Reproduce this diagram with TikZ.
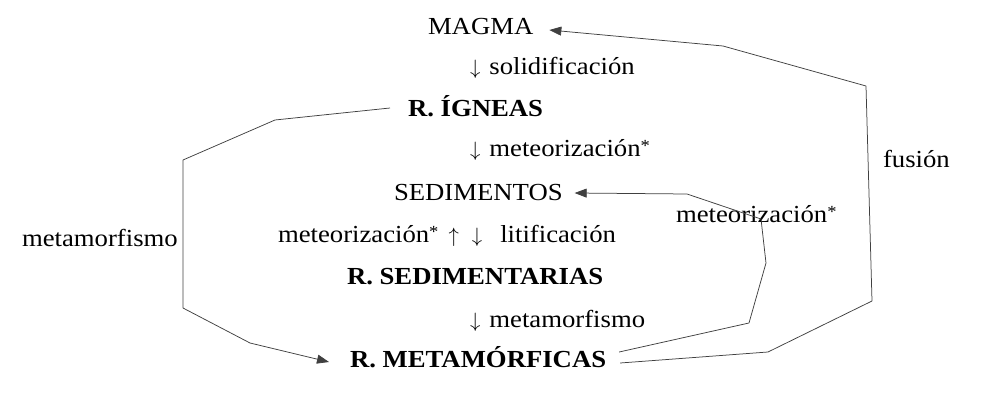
\documentclass[tikz,border=0pt]{standalone}
\usepackage{fontspec}
\setmainfont{Liberation Serif}[FakeStretch=1.09]
\usetikzlibrary{arrows.meta,calc}
\newcommand{\myast}{\raisebox{5pt}{\fontsize{17}{17}\selectfont *}}
\newcommand{\myda}{{\fontsize{22}{22}\selectfont$\downarrow$}}
\newcommand{\myua}{{\fontsize{22}{22}\selectfont$\uparrow$}}
\begin{document}
\begin{tikzpicture}[x=1pt,y=-1pt,
  lbl/.style={anchor=base west,inner sep=0pt,outer sep=0pt,text=black,font=\fontsize{24.5}{28}\selectfont},
  rock/.style={lbl,font=\fontsize{24.5}{28}\selectfont\bfseries},
  conn/.style={draw=black!75,line width=0.75pt,line join=round},
  tip/.style={-{Triangle[length=12pt,width=9pt]}}]
\useasboundingbox (0,0) rectangle (986,406);
\node[lbl]  (magma) at (428,35)  {MAGMA};
\node[lbl]  (solid) at (470,75)  {\myda\hspace{9pt}solidificación};
\node[rock] (ign)   at (408,117) {R. ÍGNEAS};
\node[lbl]  (met1)  at (470,157) {\myda\hspace{9pt}meteorización\myast};
\node[lbl]  (sed)   at (394,201) {SEDIMENTOS};
\node[lbl]  (mid)   at (278,243) {meteorización\myast\hspace{10pt}\myua\hspace{13pt}\myda\hspace{18pt}litificación};
\node[rock] (rsed)  at (347,285) {R. SEDIMENTARIAS};
\node[lbl]  (meta)  at (470,327) {\myda\hspace{9pt}metamorfismo};
\node[rock] (rmet)  at (350,367) {R. METAMÓRFICAS};
\node[lbl]  (lmeta) at (22,247)  {metamorfismo};
\node[lbl]  (fus)   at (883,168) {fusión};
\node[lbl]  (rmete) at (676,223) {meteorización\myast};
% fusion
\coordinate (f1) at (768,352);
\coordinate (f2) at (872,301);
\coordinate (f3) at (866,86);
\coordinate (f4) at (723,46);
\draw[conn,tip] ($(rmet.base east)+(14,-4)$) -- (f1) -- (f2) -- (f3) -- (f4) -- ($(magma.base east)+(16,-5)$);
% metamorfismo (left)
\coordinate (m1) at (275,120);
\coordinate (m2) at (183,160);
\coordinate (m3) at (183,308);
\coordinate (m4) at (250,343);
\draw[conn,tip] ($(ign.base west)+(-18,-9)$) -- (m1) -- (m2) -- (m3) -- (m4) -- ($(rmet.base west)+(-21,-5)$);
% meteorizacion (right)
\coordinate (w1) at (749,323);
\coordinate (w2) at (766,263);
\coordinate (w3) at (761,219);
\coordinate (w4) at (687,194);
\draw[conn,tip] ($(rmet.base east)+(13,-15)$) -- (w1) -- (w2) -- (w3) -- (w4) -- ($(sed.base east)+(12,-8)$);
\end{tikzpicture}
\end{document}
